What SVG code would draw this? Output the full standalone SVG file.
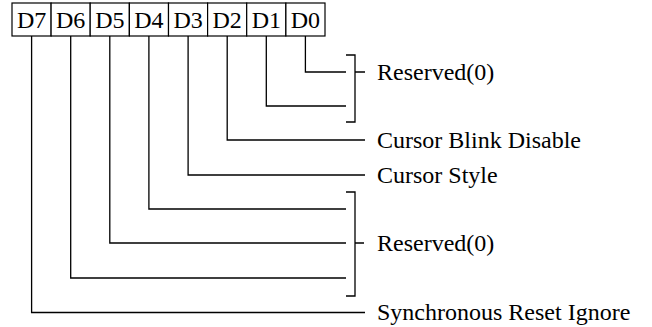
<svg xmlns="http://www.w3.org/2000/svg" width="652" height="327" viewBox="0 0 652 327">
<style>
.cell{fill:#fff;stroke:#000;stroke-width:1.2}
.bit{font-family:"Liberation Serif","Times New Roman",serif;font-size:24px;text-anchor:middle;fill:#000}
.lbl{font-family:"Liberation Serif","Times New Roman",serif;font-size:24px;fill:#000}
.ln{fill:none;stroke:#000;stroke-width:1.3}
</style>
<rect width="652" height="327" fill="#fff"/>
<g id="register">
<g id="D7"><rect class="cell" x="12" y="3" width="39.1" height="33"/><text class="bit" x="31.6" y="28">D7</text></g>
<g id="D6"><rect class="cell" x="51.1" y="3" width="39.1" height="33"/><text class="bit" x="70.7" y="28">D6</text></g>
<g id="D5"><rect class="cell" x="90.2" y="3" width="39.1" height="33"/><text class="bit" x="109.8" y="28">D5</text></g>
<g id="D4"><rect class="cell" x="129.4" y="3" width="39.1" height="33"/><text class="bit" x="148.9" y="28">D4</text></g>
<g id="D3"><rect class="cell" x="168.5" y="3" width="39.1" height="33"/><text class="bit" x="188.1" y="28">D3</text></g>
<g id="D2"><rect class="cell" x="207.6" y="3" width="39.1" height="33"/><text class="bit" x="227.2" y="28">D2</text></g>
<g id="D1"><rect class="cell" x="246.7" y="3" width="39.1" height="33"/><text class="bit" x="266.3" y="28">D1</text></g>
<g id="D0"><rect class="cell" x="285.9" y="3" width="39.1" height="33"/><text class="bit" x="305.4" y="28">D0</text></g>
</g>
<g id="connectors">
<path class="ln" d="M305.4 36V72H346"/>
<path class="ln" d="M266.3 36V106H346"/>
<path class="ln" d="M346 55H355V122H346M355 72H365"/>
<path class="ln" d="M227.2 36V140H365"/>
<path class="ln" d="M188.1 36V175H365"/>
<path class="ln" d="M148.9 36V209H346"/>
<path class="ln" d="M109.8 36V243H346"/>
<path class="ln" d="M70.7 36V278H346"/>
<path class="ln" d="M346 192H355V296H346M355 243H364"/>
<path class="ln" d="M31.6 36V312.5H365"/>
</g>
<g id="labels">
<text class="lbl" x="377" y="80">Reserved(0)</text>
<text class="lbl" x="377" y="148">Cursor Blink Disable</text>
<text class="lbl" x="377" y="183">Cursor Style</text>
<text class="lbl" x="377" y="251">Reserved(0)</text>
<text class="lbl" x="377" y="320">Synchronous Reset Ignore</text>
</g>
</svg>
